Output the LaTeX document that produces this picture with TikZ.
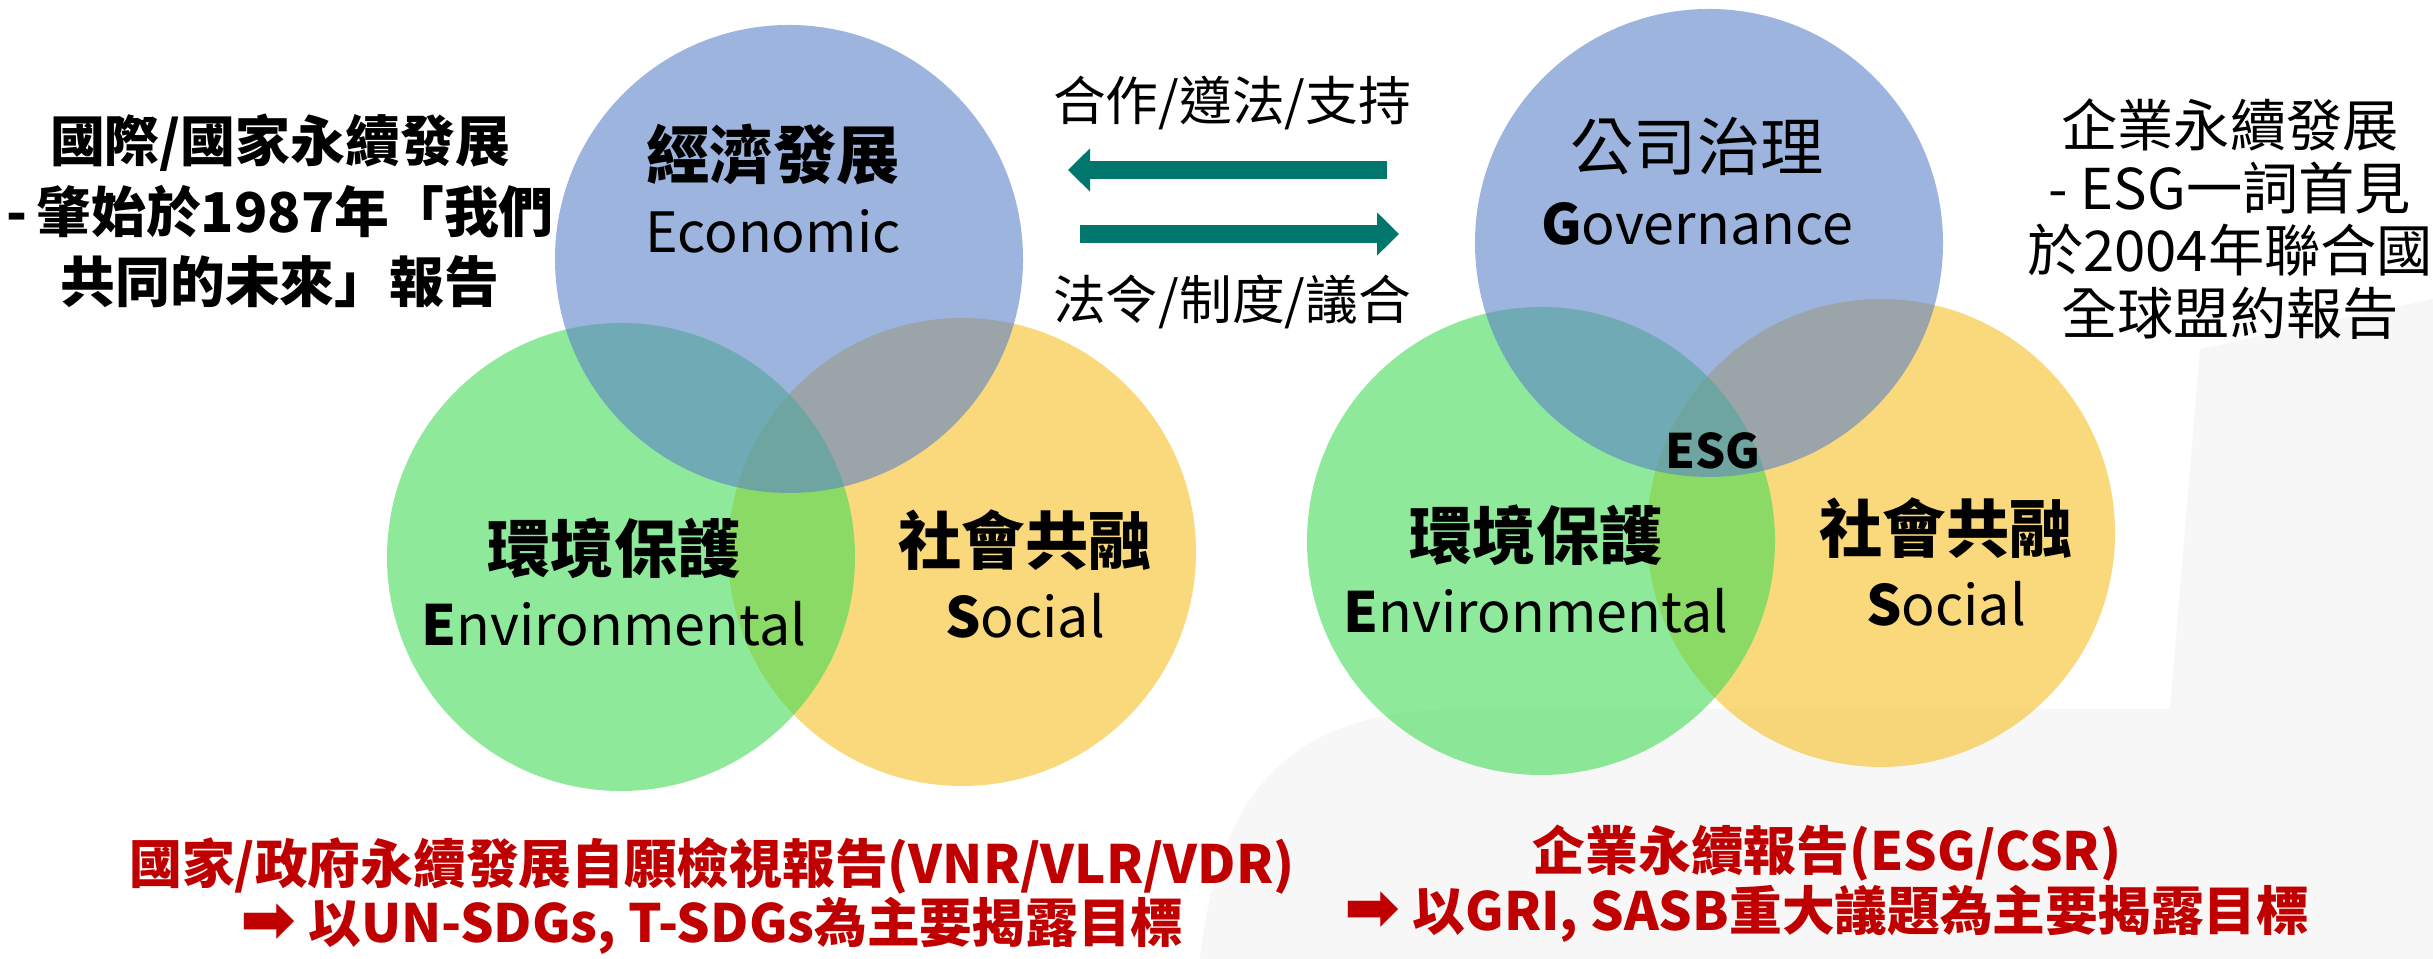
\documentclass[tikz,border=0pt]{standalone}
\usepackage{fontspec}
\setmainfont{Noto Sans CJK TC}
\newfontfamily\dingfont{DejaVu Sans}
\usetikzlibrary{arrows.meta}

\definecolor{econblue}{RGB}{92,130,200}
\definecolor{envgreen}{RGB}{68,220,88}
\definecolor{socyellow}{RGB}{247,193,37}
\definecolor{linkteal}{RGB}{0,118,108}
\definecolor{reportred}{RGB}{192,0,0}

\newcommand\eng[1]{{\fontsize{15.8}{18}\selectfont #1}}
\newcommand\pointer{{\dingfont\bfseries\fontsize{19}{17}\selectfont ➡}}

\begin{document}
\begin{tikzpicture}[
        pillar/.style={circle, minimum size=4.68cm, inner sep=0pt, fill opacity=0.6},
        tag/.style={align=center, font=\fontsize{18}{21}\selectfont},
        note/.style={align=center, font=\fontsize{16}{17.8}\selectfont},
        link/.style={draw=linkteal, line width=0.18cm, -{Triangle[length=0.22cm, width=0.42cm]}},
        report/.style={align=center, text=reportred, font=\fontsize{15}{17}\selectfont\bfseries},
    ]
        \useasboundingbox (0,0) rectangle (24.33,9.59);
        \fill[white] (0,0) rectangle (24.33,9.59);
        % faint backdrop
        \fill[black!3] (12.0,0) .. controls (12.2,1.8) and (13.0,2.45) .. (14.5,2.5)
            -- (21.7,2.5) -- (22.0,6.1) -- (24.33,6.6) -- (24.33,0) -- cycle;

        % national venn
        \node[pillar, fill=socyellow] (ls) at (9.62, 4.07) {};
        \node[pillar, fill=envgreen]  (le) at (6.21, 4.02) {};
        \node[pillar, fill=econblue]  (lc) at (7.89, 7.00) {};
        \node[tag] (lct) at (7.73, 7.70) {\bfseries 經濟發展\\\eng{Economic}};
        \node[tag] (let) at (6.14, 3.77) {\bfseries 環境保護\\\eng{{\bfseries E}nvironmental}};
        \node[tag] (lst) at (10.25, 3.85) {\bfseries 社會共融\\\eng{{\bfseries S}ocial}};

        % corporate venn
        \node[pillar, fill=socyellow] (rs) at (18.81, 4.26) {};
        \node[pillar, fill=envgreen]  (re) at (15.41, 4.18) {};
        \node[pillar, fill=econblue]  (rg) at (17.09, 7.16) {};
        \node[tag] (rgt) at (16.97, 7.78) {公司治理\\\eng{{\bfseries G}overnance}};
        \node[tag] (ret) at (15.36, 3.90) {\bfseries 環境保護\\\eng{{\bfseries E}nvironmental}};
        \node[tag] (rst) at (19.46, 3.97) {\bfseries 社會共融\\\eng{{\bfseries S}ocial}};
        \node[font=\fontsize{13.5}{15}\selectfont\bfseries] (esg) at (17.13, 5.08) {ESG};

        % side notes
        \node[note, font=\fontsize{15.6}{20}\selectfont\bfseries] (nat) at (2.80, 7.48)
            {國際/國家永續發展\\-\,肇始於1987年「我們\\共同的未來」報告};
        \node[note] (corp) at (22.30, 7.40)
            {企業永續發展\\- ESG一詞首見\\於2004年聯合國\\全球盟約報告};

        % two-way link
        \node[font=\fontsize{15}{17}\selectfont] (up) at (12.32, 8.56) {合作/遵法/支持};
        \node[font=\fontsize{15}{17}\selectfont] (dn) at (12.32, 6.57) {法令/制度/議合};
        \coordinate (l1) at (13.87, 7.89);
        \coordinate (l2) at (10.68, 7.89);
        \coordinate (r1) at (10.80, 7.25);
        \coordinate (r2) at (13.99, 7.25);
        \draw[link] (l1) -- (l2);
        \draw[link] (r1) -- (r2);

        % reports
        \node[report] (vnr) at (7.12, 0.63)
            {國家/政府永續發展自願檢視報告(VNR/VLR/VDR)\\\pointer{} 以UN-SDGs, T-SDGs為主要揭露目標};
        \node[report] (csr) at (18.27, 0.75)
            {企業永續報告(ESG/CSR)\\\pointer{} 以GRI, SASB重大議題為主要揭露目標};
\end{tikzpicture}
\end{document}
